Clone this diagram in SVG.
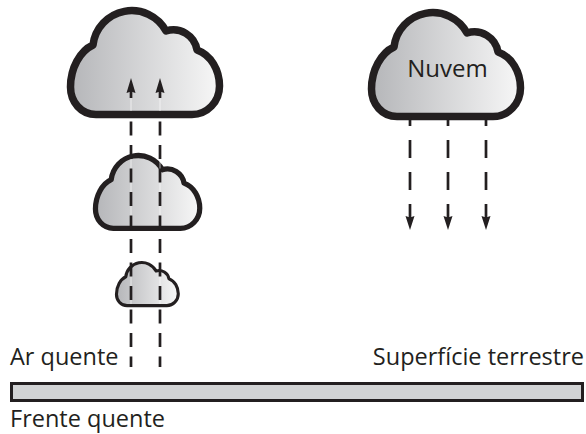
<svg xmlns="http://www.w3.org/2000/svg" xmlns:xlink="http://www.w3.org/1999/xlink" width="586" height="434" viewBox="0 0 586 434">
<style>
.cloud{fill:url(#cg);stroke:#231f20;stroke-width:7.5;stroke-linejoin:round}
.dash{stroke:#231f20;stroke-width:2.7;fill:none}
.hair{stroke:#ffffff;stroke-width:0.8;opacity:0.8}
.head{fill:#231f20}
.lbl{font-family:"Open Sans","Noto Sans","Liberation Sans",sans-serif;font-size:23.5px;fill:#231f20}
</style>
<defs>
<linearGradient id="cg" x1="0" y1="0" x2="1" y2="0">
<stop offset="0" stop-color="#b5b6b9"/>
<stop offset="1" stop-color="#f7f7f7"/>
</linearGradient>
<path id="cloudShape" d="M96,114.5 C81,114.5 70.5,102 70.5,87 C70.5,68 80,51 93,45 A39 39 0 0 1 166,31 A24 24 0 0 1 197,50 C211,55 219.5,70 219.5,86 C219.5,102 207,114.5 192,114.5 Z"/>
</defs>
<g id="cloud-big"><use xlink:href="#cloudShape" class="cloud"/></g>
<g id="cloud-mid"><use xlink:href="#cloudShape" class="cloud" transform="translate(46.1,148.1) scale(0.7)"/></g>
<g id="cloud-small"><use xlink:href="#cloudShape" class="cloud" transform="translate(87.2,258.1) scale(0.415)"/></g>
<g id="cloud-nuvem"><use xlink:href="#cloudShape" class="cloud" transform="translate(301,2)"/>
<text class="lbl" x="447.5" y="77" text-anchor="middle" style="font-size:24px">Nuvem</text></g>
<g id="ground"><rect x="11.5" y="383.5" width="571" height="17" fill="#d1d3d4" stroke="#231f20" stroke-width="3"/></g>
<g id="labels">
<text class="lbl" x="10" y="365">Ar quente</text>
<text class="lbl" x="584" y="365" text-anchor="end">Superfície terrestre</text>
<text class="lbl" x="10" y="427">Frente quente</text>
</g>
<g id="connectors">
<line class="hair" x1="131" y1="97" x2="131" y2="111"/>
<line class="hair" x1="160" y1="97" x2="160" y2="111"/>
<line class="hair" x1="131" y1="157" x2="131" y2="227"/>
<line class="hair" x1="160" y1="157" x2="160" y2="227"/>
<line class="hair" x1="131" y1="263" x2="131" y2="304"/>
<line class="hair" x1="160" y1="263" x2="160" y2="304"/>
<line class="dash" x1="131" y1="90" x2="131" y2="98"/>
<line class="dash" x1="160" y1="90" x2="160" y2="98"/>
<line class="dash" x1="131" y1="121.5" x2="131" y2="367" stroke-dasharray="14 9.5"/>
<line class="dash" x1="160" y1="121.5" x2="160" y2="367" stroke-dasharray="14 9.5"/>
<polygon class="head" points="131,78 135.5,93 131,91.5 126.5,93"/>
<polygon class="head" points="160,78 164.5,93 160,91.5 155.5,93"/>
<line class="dash" x1="410" y1="117" x2="410" y2="219" stroke-dasharray="9 14 18 14 18 14 18"/>
<line class="dash" x1="448" y1="117" x2="448" y2="219" stroke-dasharray="9 14 18 14 18 14 18"/>
<line class="dash" x1="486" y1="117" x2="486" y2="219" stroke-dasharray="9 14 18 14 18 14 18"/>
<polygon class="head" points="410,230 405.5,216 410,217.5 414.5,216"/>
<polygon class="head" points="448,230 443.5,216 448,217.5 452.5,216"/>
<polygon class="head" points="486,230 481.5,216 486,217.5 490.5,216"/>
</g>
</svg>
